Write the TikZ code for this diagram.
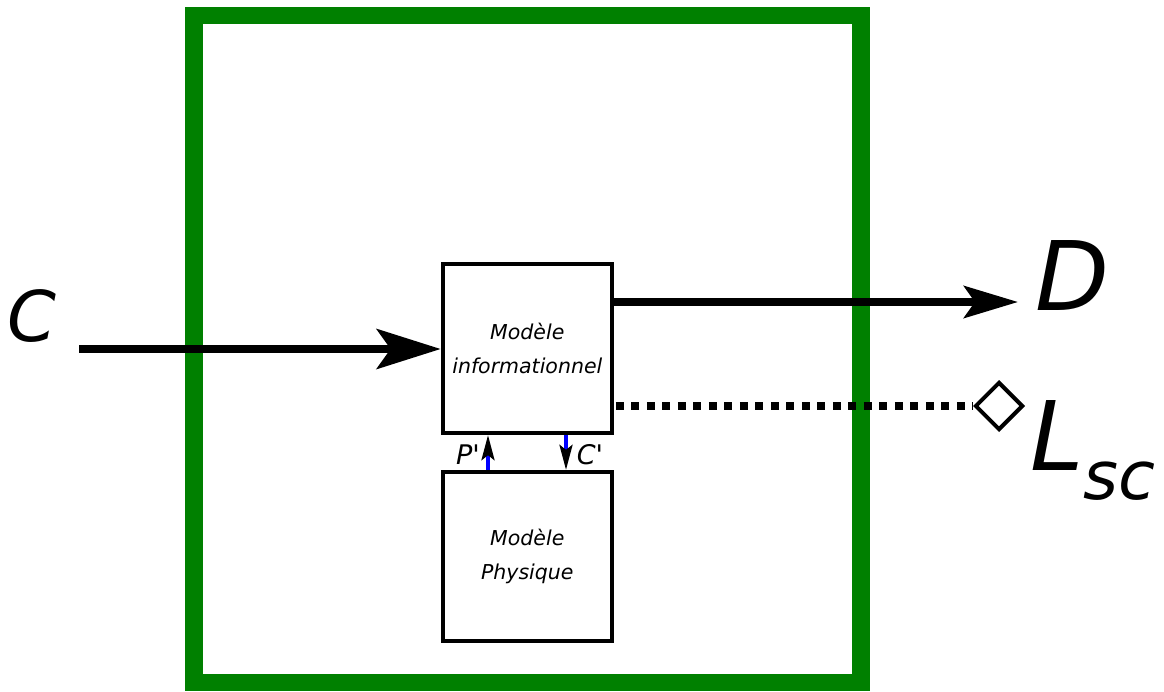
\documentclass[tikz,border=0pt]{standalone}
\usepackage{fontspec}
\setmainfont{DejaVu Sans}
\usetikzlibrary{arrows.meta,shapes.geometric}
\definecolor{frameGreen}{RGB}{0,128,0}
\begin{document}
\begin{tikzpicture}[x=1pt,y=-1pt,
  blockbox/.style={draw=black,line width=4.3pt,minimum width=169pt,minimum height=169pt,inner sep=0pt,align=center,font=\fontsize{20.5}{34}\selectfont\itshape},
  bigarrow/.style={line width=7.5pt,-{Stealth[length=64pt,width=40pt,inset=14pt]}},
  midarrow/.style={line width=7.5pt,-{Stealth[length=54pt,width=32pt,inset=11pt]}},
  smallarrow/.style={blue,line width=3.6pt,-{Stealth[black,length=25pt,width=13pt,inset=5pt]}},
  biglabel/.style={inner sep=0pt,font=\fontsize{96}{96}\selectfont\itshape},
  primelabel/.style={inner sep=0pt,font=\fontsize{27}{27}\selectfont\itshape}]
\useasboundingbox (0,0) rectangle (1164,691);
\draw[frameGreen,line width=17.5pt] (194,15.5) rectangle (861,682.5);
\node[blockbox] (info) at (527.3,348.5) {Modèle\\informationnel};
\node[blockbox] (phys) at (527.3,556.5) {Modèle\\Physique};
\coordinate (cstart) at (79,349);
\draw[bigarrow] (cstart) -- (info.west |- cstart);
\node[inner sep=0pt,font=\fontsize{70}{70}\selectfont\itshape] (Clab) at (32,316) {C};
\coordinate (dend) at (1018,302);
\draw[midarrow] (info.east |- dend) -- (dend);
\node[biglabel] (Dlab) at (1072,276) {D};
\node[draw,diamond,line width=4pt,minimum size=48pt,inner sep=0pt] (dia) at (999,406) {};
\draw[line width=8pt,dash pattern=on 8pt off 7.5pt] ([xshift=2pt]info.east |- dia) -- (dia.west);
\node[biglabel,anchor=base west] (Llab) at (1030,470) {L\textsubscript{sc}};
% P' and C'
\coordinate (pbot) at (488,470);
\coordinate (ctop) at (566,435);
\draw[smallarrow] (pbot) -- (pbot |- info.south);
\draw[smallarrow] (ctop) -- (ctop |- phys.north);
\node[primelabel] (Plab) at (468,455) {P\textquotesingle};
\node[primelabel] (Cplab) at (590,455) {C\textquotesingle};
\end{tikzpicture}
\end{document}
